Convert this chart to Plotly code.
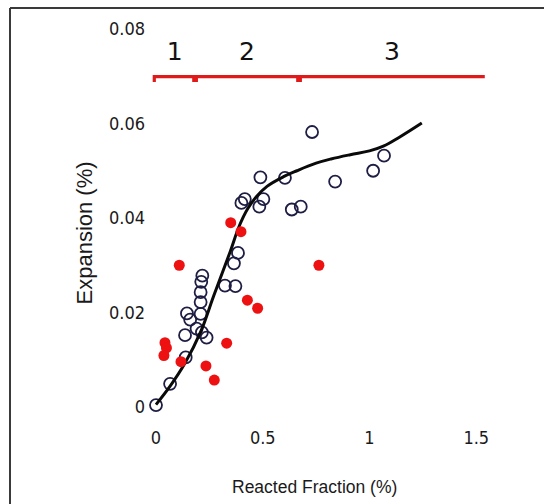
import plotly.graph_objects as go

# ---------------- data ----------------
open_x = [0.0, 0.066, 0.139, 0.136, 0.145, 0.16, 0.19, 0.215, 0.237,
          0.209, 0.209, 0.209, 0.212, 0.217, 0.323, 0.372, 0.365, 0.384,
          0.40, 0.416, 0.489, 0.503, 0.484, 0.604, 0.636, 0.678, 0.731,
          0.839, 1.017, 1.068]
open_y = [0.0004, 0.0049, 0.0105, 0.0152, 0.0198, 0.0185, 0.0166, 0.0158, 0.0147,
          0.0197, 0.0222, 0.0243, 0.0265, 0.0278, 0.0257, 0.0256, 0.0304, 0.0326,
          0.0432, 0.0440, 0.0486, 0.0440, 0.0424, 0.0485, 0.0418, 0.0424, 0.0582,
          0.0477, 0.0500, 0.0532]

red_x = [0.109, 0.042, 0.049, 0.037, 0.117, 0.234, 0.273, 0.331, 0.350,
         0.398, 0.428, 0.476, 0.763]
red_y = [0.0300, 0.0136, 0.0125, 0.0109, 0.0096, 0.0087, 0.0057, 0.0135, 0.0390,
         0.0371, 0.0226, 0.0209, 0.0300]

fit_x = [0.0, 0.066, 0.136, 0.21, 0.27, 0.347, 0.39, 0.43, 0.47, 0.52, 0.60,
         0.66, 0.75, 0.82, 0.91, 1.0, 1.065, 1.14, 1.245]
fit_y = [0.0005, 0.0044, 0.0093, 0.0160, 0.0235, 0.0328, 0.0383, 0.0420, 0.0445, 0.0467, 0.0488,
         0.0500, 0.0516, 0.0525, 0.0534, 0.0542, 0.0552, 0.0571, 0.0601]

region_edges = [-0.008, 0.183, 0.67, 1.54]
region_labels = ["1", "2", "3"]
bracket_level = 0.0699
label_level = 0.0747

xtick_vals = [0, 0.5, 1, 1.5]
xtick_text = ["0", "0.5", "1", "1.5"]
ytick_vals = [0, 0.02, 0.04, 0.06, 0.08]
ytick_text = ["0", "0.02", "0.04", "0.06", "0.08"]

x_title = "Reacted Fraction (%)"
y_title = "Expansion (%)"

# ---------------- layout geometry (pixels) ----------------
W, H = 544, 504
ML, MR, MT, MB = 150, 30, 20, 80
PW, PH = W - ML - MR, H - MT - MB
X0PX, XSCALE = 156, 213.5      # pixel of x=0, pixels per unit
Y0PX, YSCALE = 407, 4725       # pixel of y=0, pixels per unit
x_range = [(ML - X0PX) / XSCALE, (W - MR - X0PX) / XSCALE]
y_range = [(Y0PX - (H - MB)) / YSCALE, (Y0PX - MT) / YSCALE]


def px_x(px):
    return (px - ML) / PW


def px_y(py):
    return ((H - MB) - py) / PH


# bracket path built from the region edges
bx, by = [], []
drop = 0.0011
gap = 0.006
n = len(region_labels)
for i in range(n):
    a, b = region_edges[i], region_edges[i + 1]
    a2 = a if i == 0 else a + gap
    b2 = b if i == n - 1 else b - gap
    bx += [a2, a2, b2]
    by += [bracket_level - drop, bracket_level, bracket_level]
    if i < n - 1:
        bx += [b2]
        by += [bracket_level - drop]
    bx.append(None)
    by.append(None)

centers = [(region_edges[i] + region_edges[i + 1]) / 2 for i in range(n)]

fig = go.Figure()

fig.add_trace(go.Scatter(
    x=open_x, y=open_y, mode="markers", cliponaxis=False,
    marker=dict(symbol="circle-open", size=12, color="#1e1e44",
                line=dict(width=1.8, color="#1e1e44")),
    showlegend=False))

fig.add_trace(go.Scatter(
    x=fit_x, y=fit_y, mode="lines", cliponaxis=False,
    line=dict(color="#0a0a0a", width=3, shape="spline", smoothing=1.1),
    showlegend=False))

fig.add_trace(go.Scatter(
    x=red_x, y=red_y, mode="markers", cliponaxis=False,
    marker=dict(symbol="circle", size=11, color="#ee1111"),
    showlegend=False))

fig.add_trace(go.Scatter(
    x=bx, y=by, mode="lines", cliponaxis=False,
    line=dict(color="#e01a1a", width=3.2),
    showlegend=False))

fig.add_trace(go.Scatter(
    x=centers, y=[label_level] * n, mode="text", text=region_labels,
    textfont=dict(family="DejaVu Sans", size=25, color="#111111"),
    cliponaxis=False, showlegend=False))

tick_font = dict(family="DejaVu Sans Condensed, DejaVu Sans", size=18, color="#1a1a1a")

fig.update_xaxes(range=x_range, tickvals=xtick_vals, ticktext=xtick_text,
                 showgrid=False, zeroline=False, showline=False, ticks="",
                 tickfont=tick_font, ticklabelstandoff=1)
fig.update_yaxes(range=y_range, tickvals=ytick_vals, ticktext=ytick_text,
                 showgrid=False, zeroline=False, showline=False, ticks="",
                 tickfont=tick_font, ticklabelstandoff=4)

fig.add_annotation(text=x_title, xref="paper", yref="paper",
                   x=px_x(314), y=px_y(487), showarrow=False,
                   xanchor="center", yanchor="middle",
                   font=dict(family="Liberation Sans Narrow, Arial Narrow, Liberation Sans",
                             size=17.5, color="#1a1a1a"))
fig.add_annotation(text=y_title, xref="paper", yref="paper",
                   x=px_x(83.5), y=px_y(233), showarrow=False, textangle=-90,
                   xanchor="center", yanchor="middle",
                   font=dict(family="Liberation Sans", size=22, color="#1a1a1a"))

# image frame (top and left edges)
fig.add_shape(type="line", xref="paper", yref="paper",
              x0=px_x(10), y0=px_y(8), x1=px_x(W + 5), y1=px_y(8),
              line=dict(color="#3a3a3a", width=2))
fig.add_shape(type="line", xref="paper", yref="paper",
              x0=px_x(10), y0=px_y(8), x1=px_x(10), y1=px_y(H + 5),
              line=dict(color="#3a3a3a", width=2))

fig.update_layout(width=W, height=H,
                  margin=dict(l=ML, r=MR, t=MT, b=MB, autoexpand=False),
                  paper_bgcolor="white", plot_bgcolor="white",
                  showlegend=False)

fig.write_html("out.html")
